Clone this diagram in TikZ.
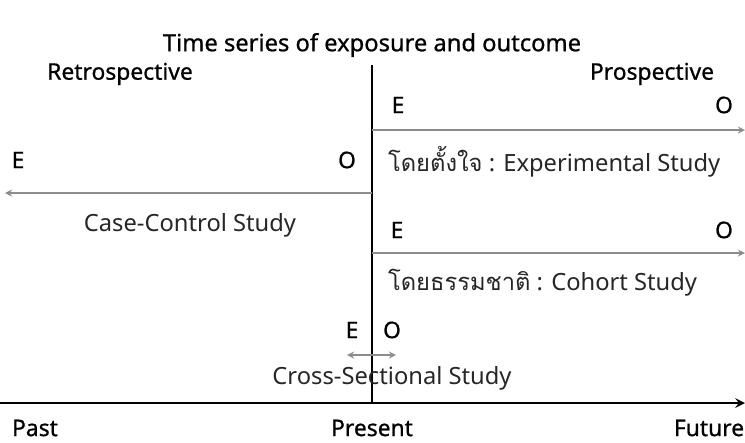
\documentclass[tikz,border=0pt]{standalone}
\usepackage{fontspec}
\setmainfont{Noto Sans}[BoldFont={Noto Sans}, BoldFeatures={FakeBold=0.8}]
\newfontfamily\thaifont[Script=Thai]{Loma}
\begin{document}
\begin{tikzpicture}[
    x=0.02cm, y=-0.02cm,
    every node/.style={font=\fontsize{13}{15}\selectfont\bfseries, inner sep=1pt},
    head/.style={font=\fontsize{13.5}{16}\selectfont\bfseries},
    study/.style={font=\fontsize{13.5}{15}\selectfont, text=black!85},
    timeline/.style={line width=1.4pt, black},
    arr/.style={-stealth, line width=0.8pt, black!45}
]
\useasboundingbox (0,0) rectangle (745,443);
% title and sides
\node[head] (title) at (372,45) {Time series of exposure and outcome};
\node (retro) at (120,74) {Retrospective};
\node (pros) at (652,74) {Prospective};
% time axis
\coordinate (axL) at (0,403);
\coordinate (axR) at (745,403);
\coordinate (vtop) at (372,65);
\coordinate (now) at (372,403);
\draw[timeline, -stealth] (axL) -- (axR);
\draw[timeline] (vtop) -- (now);
\node (past) at (35,428) {Past};
\node (present) at (372,428) {Present};
\node (future) at (709,428) {Future};
% experimental
\coordinate (expS) at (372,130);
\coordinate (expT) at (745,130);
\node (expE) at (398,105) {E};
\node (expO) at (724,105) {O};
\draw[arr] (expS) -- (expT);
\node[study, anchor=west] (expL) at (386,162) {{\thaifont โดยตั้งใจ} : Experimental Study};
% case-control
\coordinate (ccS) at (372,193);
\coordinate (ccT) at (5,193);
\node (ccE) at (18,160) {E};
\node (ccO) at (347,160) {O};
\draw[arr] (ccS) -- (ccT);
\node[study] (ccL) at (190,225) {Case-Control Study};
% cohort
\coordinate (coS) at (372,253);
\coordinate (coT) at (745,253);
\node (coE) at (397,230) {E};
\node (coO) at (724,230) {O};
\draw[arr] (coS) -- (coT);
\node[study, anchor=west] (coL) at (386,283) {{\thaifont โดยธรรมชาติ} : Cohort Study};
% cross-sectional
\coordinate (csL) at (347,355);
\coordinate (csR) at (396,355);
\node (csE) at (352,330) {E};
\node (csO) at (392,330) {O};
\draw[arr, stealth-stealth] (csL) -- (csR);
\node[study] (csT) at (392,378) {Cross-Sectional Study};
\end{tikzpicture}
\end{document}
